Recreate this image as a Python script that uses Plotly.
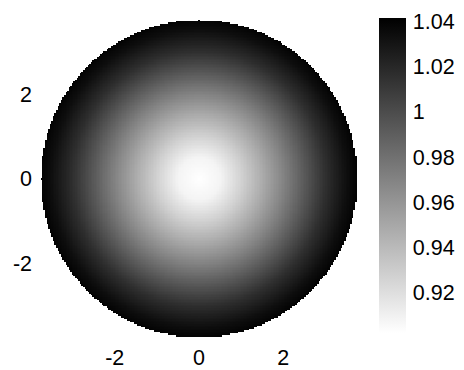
import numpy as np
import plotly.graph_objects as go

# Radial profile of the field (radius -> value), read along a diameter
profile_r = [0.0, 0.5, 1.0, 1.5, 2.0, 2.5, 3.0, 3.5, 3.75]
profile_v = [0.902, 0.908, 0.927, 0.948, 0.970, 0.993, 1.016, 1.034, 1.040]

aperture_radius = 3.75
color_min, color_max = 0.902, 1.0416

axis_ticks = [-2, 0, 2]
axis_ticktext = ["-2", "0", "2"]
cbar_ticks = [0.92, 0.94, 0.96, 0.98, 1.00, 1.02, 1.04]
cbar_ticktext = ["0.92", "0.94", "0.96", "0.98", "1", "1.02", "1.04"]

# Sample the circular aperture on a square grid; outside the disk is blank
n = 201
xs = np.linspace(-aperture_radius, aperture_radius, n)
ys = np.linspace(-aperture_radius, aperture_radius, n)
X, Y = np.meshgrid(xs, ys)
R = np.hypot(X, Y)
Z = np.interp(R, profile_r, profile_v)
Z[R > aperture_radius] = np.nan

font = dict(family="Liberation Sans, Arial, sans-serif", size=21.5, color="black")

fig = go.Figure(
    go.Heatmap(
        x=xs, y=ys, z=Z,
        colorscale=[[0, "#ffffff"], [1, "#000000"]],
        zmin=color_min, zmax=color_max,
        hoverongaps=False,
        colorbar=dict(
            thickness=27, thicknessmode="pixels",
            len=315, lenmode="pixels",
            x=(379 - 41) / 316, xanchor="left", xpad=0,
            y=(337 - 18) / 317, yanchor="top", ypad=0,
            outlinewidth=0,
            tickvals=cbar_ticks, ticktext=cbar_ticktext,
            ticks="outside", ticklen=3, tickcolor="white",
            tickfont=font,
        ),
    )
)

fig.update_xaxes(
    range=[-aperture_radius, aperture_radius],
    tickvals=axis_ticks, ticktext=axis_ticktext,
    showgrid=False, zeroline=False, showline=False, ticks="",
    ticklabelstandoff=5, automargin=False,
    tickfont=font,
)
fig.update_yaxes(
    range=[-aperture_radius, aperture_radius],
    tickvals=axis_ticks, ticktext=axis_ticktext,
    showgrid=False, zeroline=False, showline=False, ticks="",
    ticklabelstandoff=8, automargin=False,
    tickfont=font,
)

fig.update_layout(
    width=464, height=370,
    margin=dict(l=41, r=107, t=20, b=33, autoexpand=False),
    paper_bgcolor="white", plot_bgcolor="white",
    font=font,
)

fig.write_html("out.html")
